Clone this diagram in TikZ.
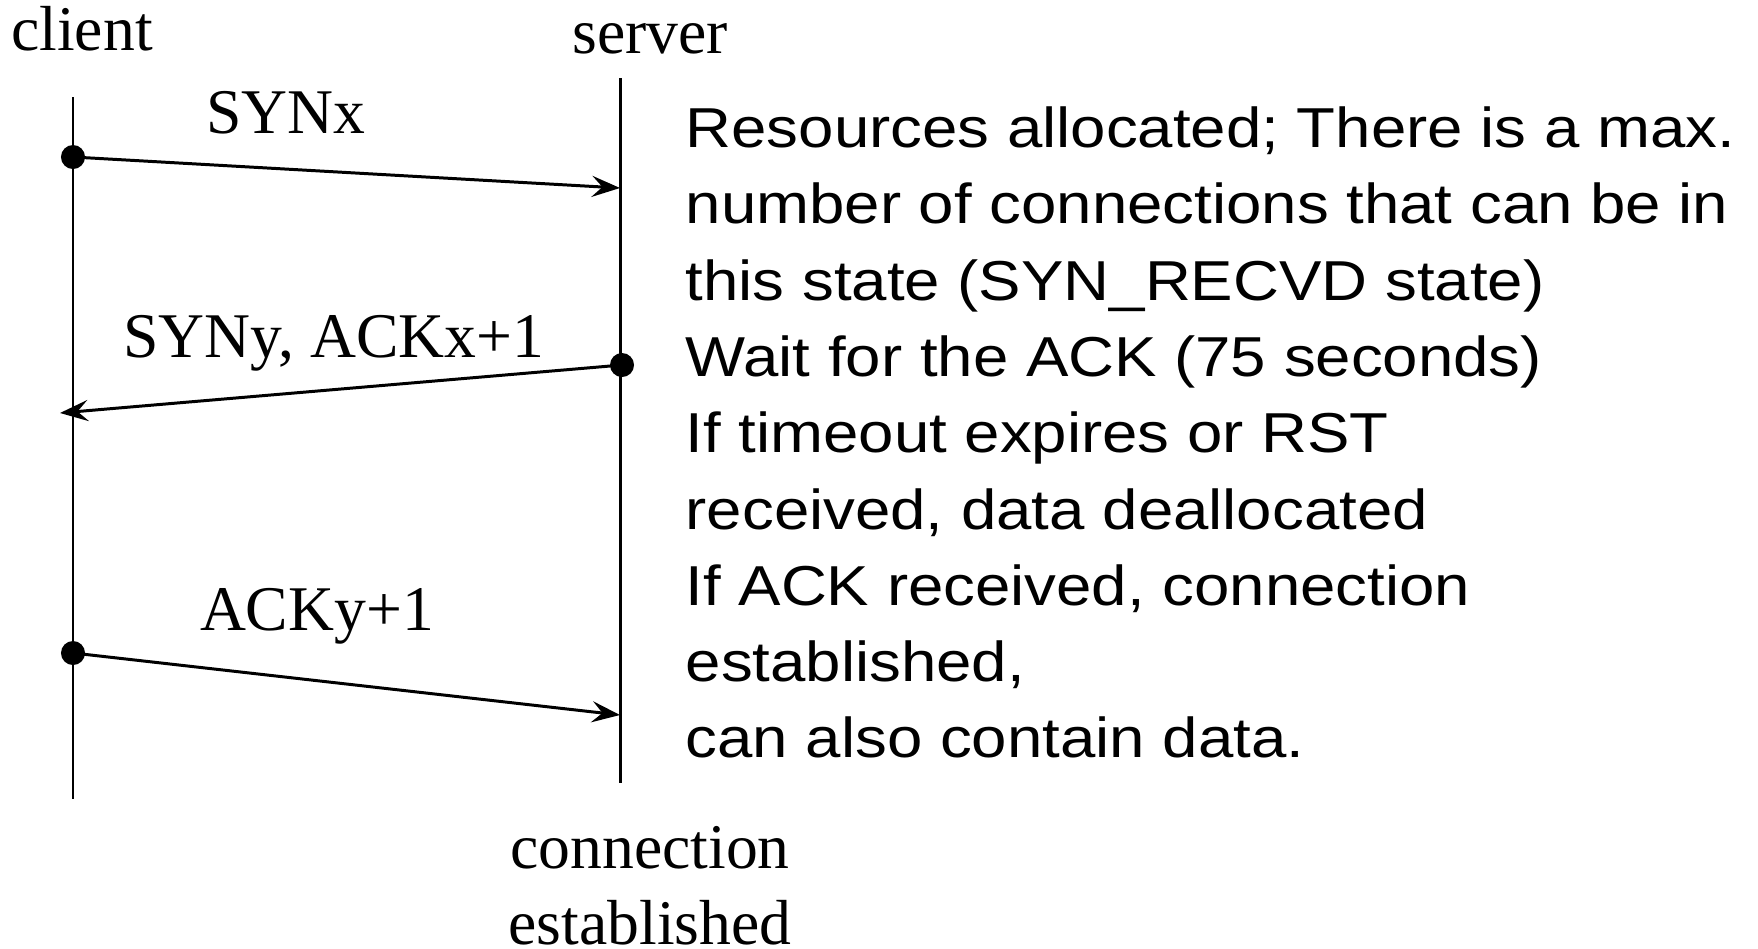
\documentclass[tikz,border=0pt]{standalone}
\usepackage{fontspec}
\setmainfont{Liberation Serif}
\newfontfamily\notefont[FakeStretch=1.13]{Liberation Sans}
\usetikzlibrary{arrows.meta}

\begin{document}
\begin{tikzpicture}[x=0.01cm, y=-0.01cm,
    lbl/.style={font=\fontsize{18.1}{21.4}\selectfont, inner sep=0pt},
    msg/.style={line width=0.85pt, -{Stealth[length=8pt, width=6pt, inset=3pt]}},
    life/.style={line width=0.85pt},
    dot/.style={circle, fill, inner sep=0pt, minimum size=0.24cm}]
      \useasboundingbox (0,0) rectangle (1758,948);
      % lifelines
      \node[lbl, anchor=base] (client) at (82,50) {client};
      \node[lbl, anchor=base] (server) at (650,53) {server};
      \coordinate (ctop) at (73,97);
      \coordinate (cbot) at (73,799);
      \coordinate (stop) at (620,78);
      \coordinate (sbot) at (620,783);
      \draw[life] (ctop) -- (cbot);
      \draw[life] (stop) -- (sbot);

      % messages
      \node[dot] (syn1) at (73,157) {};
      \coordinate (syn2) at (620,188);
      \draw[msg] (syn1.center) -- (syn2);
      \node[lbl, anchor=base] (synx) at (286,133) {SYNx};

      \node[dot] (ack1) at (622,365) {};
      \coordinate (ack2) at (60,413);
      \draw[msg] (ack1.center) -- (ack2);
      \node[lbl, anchor=base] (syny) at (334,357) {SYNy, ACKx+1};

      \node[dot] (fin1) at (73,653) {};
      \coordinate (fin2) at (620,715);
      \draw[msg] (fin1.center) -- (fin2);
      \node[lbl, anchor=base] (acky) at (317,630) {ACKy+1};

      \node[lbl, anchor=base, align=center] (estab) at (650,944) {connection\\established};

      % notes on the server side
      \node[anchor=north west, inner sep=0pt, align=left,
            font=\notefont\fontsize{16}{21.7}\selectfont] (note) at (685,106)
        {Resources allocated; There is a max.\\
         number of connections that can be in\\
         this state (SYN\_RECVD state)\\
         Wait for the ACK (75 seconds)\\
         If timeout expires or RST\\
         received, data deallocated\\
         If ACK received, connection\\
         established,\\
         can also contain data.};
\end{tikzpicture}
\end{document}
